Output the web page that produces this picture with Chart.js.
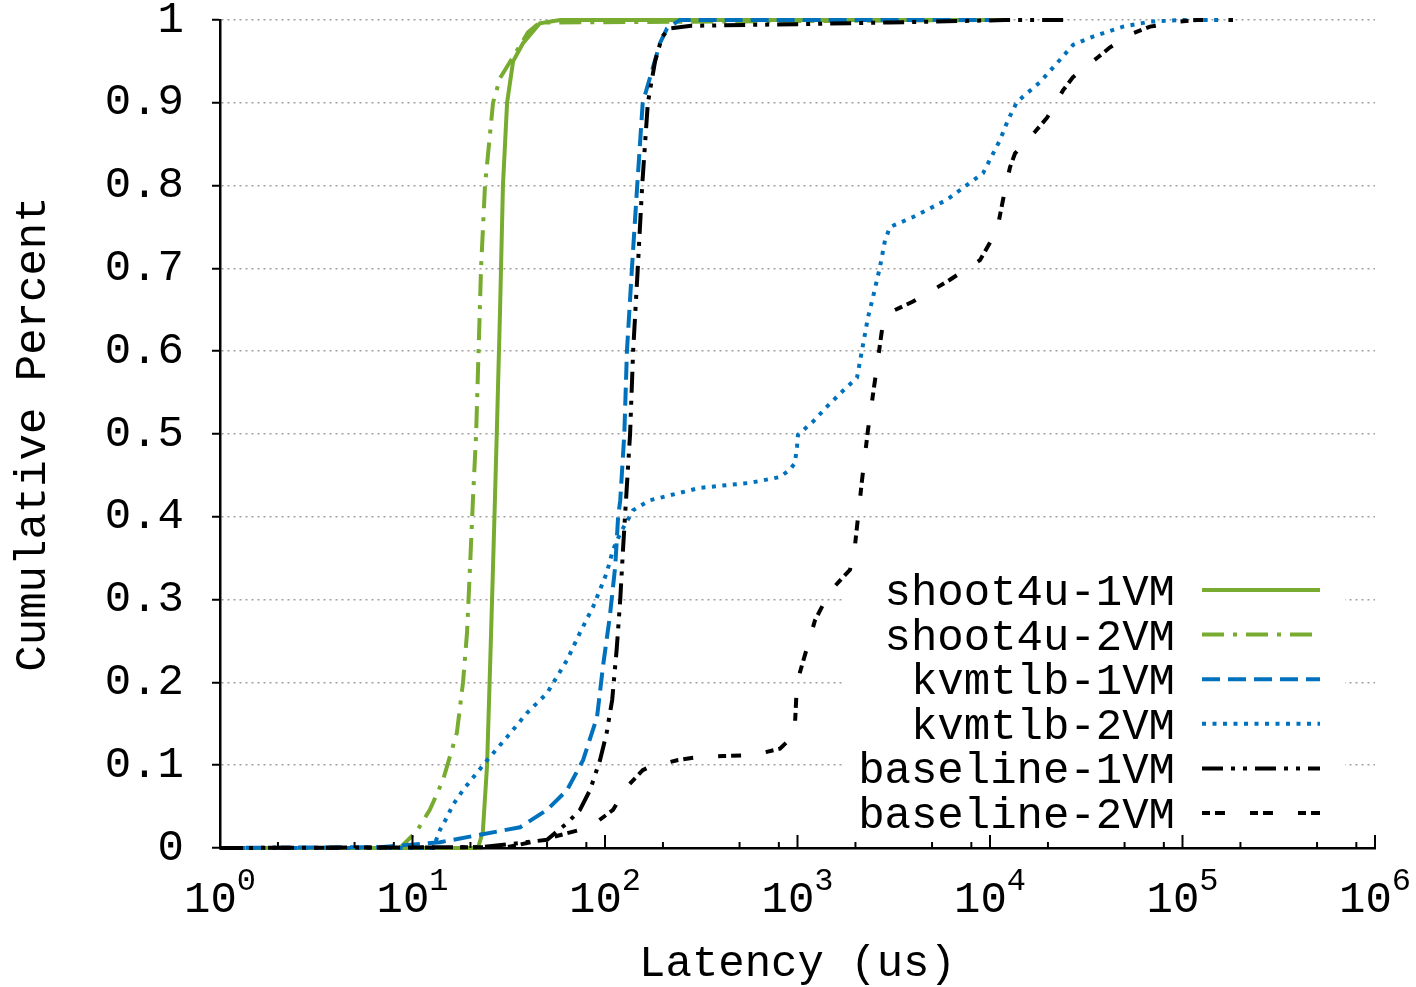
<!DOCTYPE html>
<html>
<head>
<meta charset="utf-8">
<script src="https://cdn.jsdelivr.net/npm/chart.js@4.4.1/dist/chart.umd.min.js"></script>
<style>
  html, body { margin: 0; padding: 0; background: #fff; }
  #wrap { width: 1416px; height: 987px; }
</style>
</head>
<body>
<div id="wrap"><canvas id="cdf"></canvas></div>
<script>
const FONT = '"Liberation Mono", "Courier New", monospace';
const GREEN = '#77ac30';
const BLUE = '#0072bd';

const seriesNames = ['shoot4u-1VM', 'shoot4u-2VM', 'kvmtlb-1VM', 'kvmtlb-2VM', 'baseline-1VM', 'baseline-2VM'];

// latency (us) / cumulative fraction
const shoot1X = [1, 21.9, 23.2, 24.4, 25.3, 26.2, 26.8, 27.4, 28.5, 29.5, 31.0, 33.3, 37.5, 45.9, 58.4, 12000];
const shoot1Y = [0, 0, 0.02, 0.1, 0.22, 0.34, 0.42, 0.5, 0.65, 0.8, 0.9, 0.95, 0.972, 0.996, 1, 1];

const shoot2X = [1, 8.6, 10.5, 12.3, 14.4, 17.0, 18.3, 19.2, 19.9, 20.6, 21.4, 22.7, 23.8, 26.2, 28.5, 30.3, 39.8, 45.9, 11000];
const shoot2Y = [0, 0, 0.02, 0.046, 0.082, 0.139, 0.2, 0.26, 0.34, 0.42, 0.5, 0.7, 0.8, 0.9, 0.93, 0.94, 0.985, 0.997, 1];

const kvm1X = [1, 6.8, 13.9, 22.4, 36.2, 50, 63.5, 76.9, 90.9, 97.7, 106, 113, 117, 120, 126, 130, 138, 147, 157, 193, 210, 245, 10000];
const kvm1Y = [0, 0.001, 0.007, 0.016, 0.025, 0.046, 0.07, 0.106, 0.158, 0.22, 0.28, 0.34, 0.40, 0.42, 0.5, 0.6, 0.7, 0.8, 0.9, 0.972, 0.99, 1, 1];

const kvm2X = [1, 12.8, 13.9, 15.1, 16.2, 17.6, 18.3, 19.2, 24.4, 31.0, 39.3, 50, 63.5, 74.1, 86.6, 102, 110, 120, 140, 171, 312, 566, 811, 914, 970, 994, 1006, 1205, 1422, 1702, 2037, 2163, 2324, 2466, 2683, 2849, 3025, 3981, 5980, 9200, 11270, 12400, 13800, 18200, 23100, 27000, 34300, 49100, 67800, 100700, 160000];
const kvm2Y = [0, 0, 0.022, 0.037, 0.052, 0.064, 0.07, 0.076, 0.106, 0.134, 0.163, 0.187, 0.227, 0.26, 0.291, 0.332, 0.36, 0.38, 0.408, 0.42, 0.435, 0.441, 0.448, 0.457, 0.465, 0.485, 0.499, 0.515, 0.533, 0.551, 0.568, 0.601, 0.641, 0.665, 0.702, 0.734, 0.75, 0.762, 0.783, 0.815, 0.855, 0.879, 0.901, 0.925, 0.952, 0.97, 0.98, 0.992, 0.998, 1, 1];

const base1X = [1, 22.4, 36.2, 50, 63.5, 74.1, 83.6, 94.2, 102, 109, 115, 120, 124, 127, 135, 140, 148, 156, 167, 182, 198, 218, 280, 1000, 3000, 8000, 12000, 24500];
const base1Y = [0, 0.001, 0.006, 0.01, 0.03, 0.046, 0.07, 0.106, 0.139, 0.179, 0.24, 0.3, 0.36, 0.4, 0.5, 0.6, 0.7, 0.8, 0.9, 0.95, 0.98, 0.99, 0.993, 0.995, 0.997, 0.999, 1, 1];

const base2X = [1, 31, 47.6, 74.1, 86.6, 110, 130, 157, 171, 237, 287, 410, 587, 811, 936, 970, 994, 1233, 1475, 1874, 1990, 2163, 2324, 2527, 2749, 3025, 3981, 5980, 8870, 10870, 11690, 12100, 12700, 13490, 17140, 19790, 23950, 26980, 36380, 42000, 55300, 67800, 97000, 119000, 183000];
const base2Y = [0, 0.001, 0.01, 0.022, 0.028, 0.046, 0.074, 0.094, 0.098, 0.106, 0.109, 0.111, 0.112, 0.12, 0.134, 0.149, 0.2, 0.275, 0.31, 0.336, 0.366, 0.444, 0.505, 0.565, 0.626, 0.647, 0.66, 0.684, 0.71, 0.746, 0.783, 0.8, 0.822, 0.839, 0.865, 0.882, 0.915, 0.931, 0.955, 0.967, 0.984, 0.992, 0.998, 1, 1];

const xDecades = [0, 1, 2, 3, 4, 5, 6];
const xMinorMults = [2, 5, 8];
const yTicks = [0, 0.1, 0.2, 0.3, 0.4, 0.5, 0.6, 0.7, 0.8, 0.9, 1];

const seriesX = [shoot1X, shoot2X, kvm1X, kvm2X, base1X, base2X];
const seriesY = [shoot1Y, shoot2Y, kvm1Y, kvm2Y, base1Y, base2Y];
const colors = [GREEN, GREEN, BLUE, BLUE, '#000', '#000'];
const dashes = [[], [22, 9, 4, 9], [18, 8], [4, 6.5], [21, 8, 4, 8, 4, 8], [8, 5, 10, 25]];

const datasets = seriesNames.map((name, i) => ({
  label: name,
  data: seriesX[i].map((x, j) => ({ x, y: seriesY[i][j] })),
  borderColor: colors[i],
  borderWidth: 4,
  borderDash: dashes[i],
  pointRadius: 0,
  tension: 0,
  fill: false,
  clip: false,
  order: seriesNames.length - i
}));

// gnuplot style key: right aligned text, sample line after it
const keyPlugin = {
  id: 'keyPlugin',
  beforeDatasetsDraw(chart) {
    const ctx = chart.ctx;
    ctx.save();
    ctx.fillStyle = '#fff';
    ctx.fillRect(845, 572, 500, 262);
    ctx.restore();
  },
  afterDatasetsDraw(chart) {
    const ctx = chart.ctx;
    ctx.save();
    ctx.font = '44px ' + FONT;
    ctx.textAlign = 'right';
    ctx.textBaseline = 'alphabetic';
    ctx.fillStyle = '#000';
    chart.data.datasets.forEach((ds, i) => {
      const base = 605 + i * 44.6;
      ctx.fillText(ds.label, 1175, base);
      ctx.strokeStyle = ds.borderColor;
      ctx.lineWidth = ds.borderWidth;
      ctx.setLineDash(ds.borderDash);
      ctx.beginPath();
      ctx.moveTo(1202, base - 15);
      ctx.lineTo(1320, base - 15);
      ctx.stroke();
    });
    ctx.restore();
  }
};

// inward x ticks and 10^n labels
const xAxisPlugin = {
  id: 'xAxisPlugin',
  afterDraw(chart) {
    const ctx = chart.ctx;
    const sx = chart.scales.x;
    const bottom = chart.chartArea.bottom;
    ctx.save();
    ctx.strokeStyle = '#000';
    ctx.lineWidth = 2;
    xDecades.forEach(e => {
      const p = sx.getPixelForValue(Math.pow(10, e));
      ctx.beginPath(); ctx.moveTo(p, bottom); ctx.lineTo(p, bottom - 13); ctx.stroke();
      if (e < xDecades[xDecades.length - 1]) {
        xMinorMults.forEach(m => {
          const q = sx.getPixelForValue(m * Math.pow(10, e));
          ctx.beginPath(); ctx.moveTo(q, bottom); ctx.lineTo(q, bottom - 6); ctx.stroke();
        });
      }
    });
    ctx.fillStyle = '#000';
    ctx.textAlign = 'left';
    ctx.textBaseline = 'alphabetic';
    xDecades.forEach(e => {
      const p = sx.getPixelForValue(Math.pow(10, e));
      ctx.font = '44px ' + FONT;
      const w1 = ctx.measureText('10').width;
      ctx.font = '32px ' + FONT;
      const w2 = ctx.measureText(String(e)).width;
      const left = p - (w1 + w2) / 2;
      ctx.font = '44px ' + FONT;
      ctx.fillText('10', left, 912);
      ctx.font = '32px ' + FONT;
      ctx.fillText(String(e), left + w1, 890);
    });
    ctx.restore();
  }
};

new Chart(document.getElementById('cdf'), {
  type: 'line',
  data: { datasets },
  plugins: [keyPlugin, xAxisPlugin],
  options: {
    responsive: true,
    maintainAspectRatio: false,
    animation: false,
    layout: { padding: { top: 20, right: 41, left: 0, bottom: 0 } },
    plugins: {
      legend: { display: false },
      tooltip: { enabled: false }
    },
    scales: {
      x: {
        type: 'logarithmic',
        min: 1,
        max: 1e6,
        grid: { display: false },
        border: { display: true, color: '#000', width: 2.5 },
        ticks: { display: false },
        title: {
          display: true,
          text: 'Latency (us)',
          color: '#000',
          font: { family: FONT, size: 44, lineHeight: 1 },
          padding: { top: 0, bottom: 1 }
        },
        afterFit: s => { s.height = 139; s.paddingLeft = 0; s.paddingRight = 0; }
      },
      y: {
        type: 'linear',
        min: 0,
        max: 1,
        afterBuildTicks: s => { s.ticks = yTicks.map(v => ({ value: v })); },
        ticks: {
          color: '#000',
          font: { family: FONT, size: 44 },
          padding: 28,
          callback: v => String(+v.toFixed(1))
        },
        grid: {
          color: '#a0a0a0',
          lineWidth: 1.5,
          drawTicks: true,
          tickLength: 8,
          tickColor: '#000',
          tickWidth: 2,
          tickBorderDash: []
        },
        border: { display: true, color: '#000', width: 2.5, dash: [2, 4] },
        title: {
          display: true,
          text: 'Cumulative Percent',
          color: '#000',
          font: { family: FONT, size: 44 },
          padding: { top: 7, bottom: 0 }
        },
        afterFit: s => { s.width = 220; s.paddingTop = 0; s.paddingBottom = 0; }
      }
    }
  }
});
</script>
</body>
</html>
